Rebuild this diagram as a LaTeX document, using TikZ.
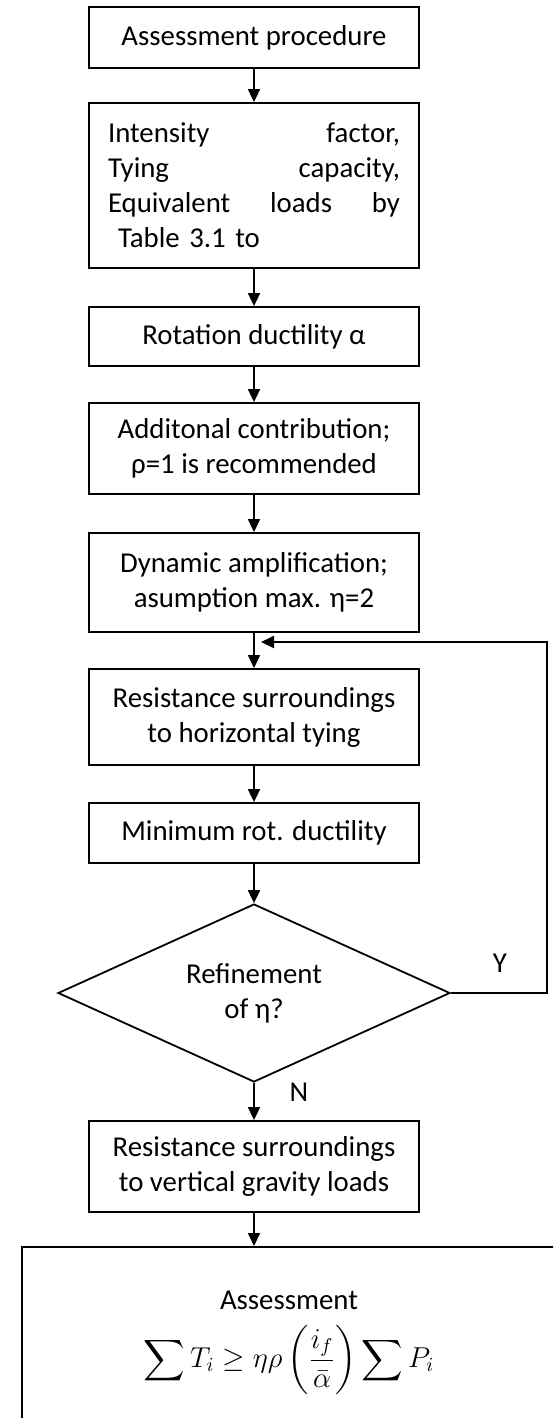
\documentclass[tikz,border=0pt]{standalone}
\usepackage{amsmath}
\usepackage{fontspec}
\setmainfont{Carlito}
\usetikzlibrary{shapes.geometric, arrows.meta}
\begin{document}
\begin{tikzpicture}[x = 0.5pt, y = -0.5pt, font = \fontsize{14.4}{17.5}\selectfont,
        box/.style = {draw, line width = 0.9pt, minimum width = 165pt, align = center, inner sep = 0pt},
        arr/.style = {-{Triangle[width = 6pt, length = 6.5pt]}, line width = 0.9pt}]
        \pgfmathsetmacro{\cx}{254};
        \path [use as bounding box, clip] (0, 0) rectangle (553, 1418);
        \node [box, minimum height = 30.5pt] (proc) at (\cx, 37.5) {Assessment procedure};
        \node [box, minimum height = 82.5pt, text width = 146pt, align = left] (input) at (\cx, 185.5) {\makebox[146pt][l]{Intensity\hfill factor,}\\ \makebox[146pt][l]{Tying\hfill capacity,}\\ \makebox[146pt][l]{Equivalent\hfill loads\hfill by}\\ \makebox[146pt][l]{\hspace*{0.35em}Table 3.1 to}};
        \node [box, minimum height = 29.5pt] (rot) at (\cx, 336.5) {Rotation ductility α};
        \node [box, minimum height = 45.5pt] (contrib) at (\cx, 448.5) {Additonal contribution;\\ ρ=1 is recommended};
        \node [box, minimum height = 49.5pt] (dyn) at (\cx, 582.5) {Dynamic amplification;\\ asumption max. η=2};
        \node [box, minimum height = 48pt] (reshor) at (\cx, 717) {Resistance surroundings\\ to horizontal tying};
        \node [box, minimum height = 30pt] (minrot) at (\cx, 833) {Minimum rot. ductility};
        \node [box, diamond, aspect = 2.2, minimum width = 196pt, minimum height = 89pt] (refine) at (\cx, 993) {Refinement\\ of η?};
        \node [box, minimum height = 45.5pt] (resvert) at (\cx, 1166.5) {Resistance surroundings\\ to vertical gravity loads};
        \node [box, anchor = north, minimum width = 267pt, minimum height = 130pt] (assess) at (289, 1246) {};
        \node [align = center] (assesstext) at (289, 1343) {Assessment\\[7pt] $\displaystyle \sum T_i \geq \eta\rho \left(\frac{i_f}{\bar{\alpha}}\right) \sum P_i$};
        \node (ylab) at (500, 963) {Y};
        \node (nlab) at (299, 1092) {N};
        \coordinate (loopin) at (261, 642);
        \draw [arr] (proc) -- (input);
        \draw [arr] (input) -- (rot);
        \draw [arr] (rot) -- (contrib);
        \draw [arr] (contrib) -- (dyn);
        \draw [arr] (dyn) -- (reshor);
        \draw [arr] (reshor) -- (minrot);
        \draw [arr] (minrot) -- (refine);
        \draw [arr] (refine) -- (resvert);
        \draw [arr] (resvert.south) -- (resvert.south |- assess.north);
        \draw [arr] (refine.east) -- ++(96, 0) |- (loopin);
    \end{tikzpicture}
\end{document}
